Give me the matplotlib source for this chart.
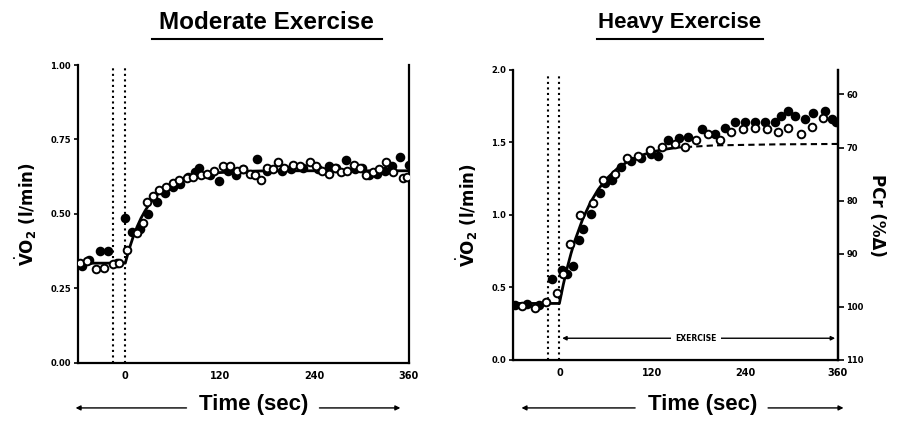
import numpy as np
import matplotlib
matplotlib.use('Agg')
from matplotlib import pyplot as plt
from matplotlib import font_manager

##### data #####
# Moderate exercise, VO2 (l/min)
mod_open_t = [-58, -48, -37, -27, -16, -8, 2, 15, 22, 28, 35, 43, 52, 60, 68, 78, 86, 96, 104, 113,
              124, 133, 142, 150, 158, 165, 172, 180, 188, 194, 202, 213, 222, 234, 242, 250,
              258, 266, 274, 282, 290, 298, 306, 314, 322, 331, 340, 352, 358]
mod_open_v = [0.337, 0.343, 0.314, 0.320, 0.332, 0.337, 0.38, 0.435, 0.47, 0.54, 0.56, 0.58, 0.59,
              0.605, 0.615, 0.62, 0.625, 0.63, 0.635, 0.645, 0.66, 0.66, 0.645, 0.65, 0.635,
              0.63, 0.614, 0.655, 0.65, 0.675, 0.655, 0.665, 0.66, 0.675, 0.66, 0.645, 0.635,
              0.655, 0.64, 0.645, 0.665, 0.655, 0.63, 0.64, 0.65, 0.675, 0.64, 0.62, 0.625]
mod_fill_t = [-55, -46, -32, -22, -10, 0, 9, 19, 29, 40, 50, 60, 69, 80, 88, 93, 108, 119, 130,
              140, 150, 167, 180, 199, 210, 225, 245, 258, 268, 280, 292, 300, 309, 320, 330,
              339, 349, 360]
mod_fill_v = [0.325, 0.345, 0.375, 0.375, 0.335, 0.485, 0.44, 0.45, 0.50, 0.54, 0.57, 0.59, 0.60,
              0.625, 0.64, 0.655, 0.63, 0.61, 0.645, 0.63, 0.65, 0.685, 0.645, 0.645, 0.65,
              0.655, 0.65, 0.66, 0.655, 0.68, 0.65, 0.655, 0.63, 0.635, 0.645, 0.66, 0.69, 0.665]
mod_fit_t = [-60, 0, 5, 10, 15, 20, 25, 30, 40, 50, 60, 75, 90, 105, 120, 150, 180, 240, 300, 360]
mod_fit_v = [0.335, 0.335, 0.383, 0.423, 0.457, 0.486, 0.510, 0.531, 0.563, 0.586, 0.603, 0.620,
             0.630, 0.636, 0.639, 0.643, 0.645, 0.645, 0.645, 0.645]

# Heavy exercise, VO2 (l/min)
hvy_open_t = [-48, -32, -17, -3, 5, 14, 27, 43, 57, 72, 87, 102, 117, 132, 149, 162, 177, 192,
              207, 222, 237, 253, 268, 282, 296, 312, 326, 341]
hvy_open_v = [0.37, 0.356, 0.40, 0.46, 0.59, 0.80, 1.00, 1.08, 1.24, 1.28, 1.39, 1.41, 1.45, 1.47,
              1.49, 1.47, 1.52, 1.56, 1.52, 1.57, 1.59, 1.60, 1.59, 1.57, 1.60, 1.56, 1.61, 1.67]
hvy_fill_t = [-58, -42, -26, -9, 3, 10, 17, 25, 31, 41, 53, 59, 68, 80, 93, 106, 118, 128, 141,
              154, 166, 184, 201, 214, 227, 240, 253, 266, 279, 287, 296, 305, 317, 328, 343, 352,
              357]
hvy_fill_v = [0.38, 0.385, 0.38, 0.56, 0.62, 0.59, 0.65, 0.83, 0.90, 1.01, 1.15, 1.22, 1.24, 1.33,
              1.37, 1.39, 1.42, 1.41, 1.52, 1.53, 1.54, 1.59, 1.56, 1.60, 1.64, 1.64, 1.64, 1.64,
              1.64, 1.68, 1.72, 1.68, 1.66, 1.70, 1.72, 1.66, 1.64]
hvy_fit_t = [-60, 0, 5, 10, 15, 20, 30, 40, 50, 60, 75, 90, 105, 120, 135, 150]
hvy_fit_v = [0.39, 0.39, 0.519, 0.633, 0.734, 0.823, 0.970, 1.085, 1.175, 1.245, 1.321, 1.374,
             1.410, 1.435, 1.452, 1.464]
hvy_tail_t = [150, 200, 280, 360]
hvy_tail_v = [1.464, 1.48, 1.487, 1.49]

x_ticks = [0, 120, 240, 360]
mod_y_ticks = [0.0, 0.25, 0.5, 0.75, 1.0]
hvy_y_ticks = [0.0, 0.5, 1.0, 1.5, 2.0]
pcr_ticks = [60, 70, 80, 90, 100, 110]
######################################

names = {f.name for f in font_manager.fontManager.ttflist}
head = 'Liberation Sans Narrow' if 'Liberation Sans Narrow' in names else 'Liberation Sans'

fig = plt.figure(figsize=(9.1, 4.41), dpi=100)
ax1 = fig.add_axes([0.0857, 0.1769, 0.3637, 0.6757])
ax2 = fig.add_axes([0.5637, 0.1837, 0.3571, 0.6576])

vo2_label = r'$\dot{\mathbf{V}}\mathbf{O}_{\mathbf{2}}$ (l/min)'


def base_axes(ax, yticks, ylim, yfmt):
    ax.set_xlim(-60, 360)
    ax.set_ylim(*ylim)
    ax.spines['top'].set_visible(False)
    for s in ['left', 'bottom', 'right']:
        ax.spines[s].set_linewidth(1.6)
    ax.set_xticks(x_ticks)
    ax.set_xticklabels([str(t) for t in x_ticks], fontsize=7, fontweight='bold')
    ax.set_yticks(yticks)
    ax.set_yticklabels([yfmt % v for v in yticks], fontsize=6, fontweight='bold')
    ax.tick_params(axis='x', length=0, pad=6)
    ax.tick_params(axis='y', length=3, width=1.2, pad=2)
    ax.axvline(-15, ymax=0.99, color='k', ls=':', lw=1.5)
    ax.axvline(0, ymax=0.99, color='k', ls=':', lw=1.5)
    ax.set_ylabel(vo2_label, fontsize=12, fontweight='bold', labelpad=8)


mk = dict(ls='none', marker='o', markersize=5.5, markeredgewidth=1.4, markeredgecolor='k')

# moderate
base_axes(ax1, mod_y_ticks, (0, 1.0), '%.2f')
ax1.plot(mod_fit_t, mod_fit_v, color='k', lw=2.0, zorder=3)
ax1.plot(mod_fill_t, mod_fill_v, color='k', markerfacecolor='k', zorder=4, **mk)
ax1.plot(mod_open_t, mod_open_v, color='k', markerfacecolor='white', zorder=5, **mk)

# heavy
base_axes(ax2, hvy_y_ticks, (0, 2.0), '%.1f')
ax2.plot(hvy_fit_t, hvy_fit_v, color='k', lw=2.0, zorder=3)
ax2.plot(hvy_tail_t, hvy_tail_v, color='k', lw=1.5, ls=(0, (3, 2)), zorder=3)
ax2.plot(hvy_fill_t, hvy_fill_v, color='k', markerfacecolor='k', zorder=4, **mk)
ax2.plot(hvy_open_t, hvy_open_v, color='k', markerfacecolor='white', zorder=5, **mk)
ax2.annotate('', xy=(0, 0.15), xytext=(360, 0.15),
             arrowprops=dict(arrowstyle='<|-|>', color='k', lw=1.0, mutation_scale=6))
ax2.text(177, 0.15, 'EXERCISE', fontsize=5.5, fontweight='bold', ha='center', va='center',
         bbox=dict(facecolor='white', edgecolor='none', pad=3))

pcr = ax2.twinx()
pcr.set_ylim(110, 55.4)
pcr.set_yticks(pcr_ticks)
pcr.set_yticklabels([str(v) for v in pcr_ticks], fontsize=6, fontweight='bold')
pcr.tick_params(axis='y', length=4, width=1.2, pad=2)
pcr.spines['top'].set_visible(False)
pcr.spines['right'].set_linewidth(1.6)
pcr.set_ylabel('PCr (%Δ)', fontsize=12, fontweight='bold', rotation=-90, labelpad=16)

# titles
fig.text(0.293, 0.950, 'Moderate Exercise', fontsize=17.5, fontweight='bold', family=head,
         ha='center', va='center')
fig.text(0.747, 0.950, 'Heavy Exercise', fontsize=16, fontweight='bold', family=head,
         ha='center', va='center')
fig.add_artist(plt.Line2D([0.167, 0.420], [0.912, 0.912], color='k', lw=1.5))
fig.add_artist(plt.Line2D([0.656, 0.838], [0.912, 0.912], color='k', lw=1.5))

# time captions with arrows
for cx, x0, x1 in [(0.279, 0.080, 0.443), (0.772, 0.570, 0.930)]:
    fig.text(cx, 0.082, 'Time (sec)', fontsize=16, fontweight='bold', family=head,
             ha='center', va='center')
    fig.add_artist(matplotlib.patches.FancyArrowPatch(
        (cx - 0.071, 0.075), (x0, 0.075), transform=fig.transFigure,
        arrowstyle='-|>', mutation_scale=7, color='k', lw=1.0))
    fig.add_artist(matplotlib.patches.FancyArrowPatch(
        (cx + 0.069, 0.075), (x1, 0.075), transform=fig.transFigure,
        arrowstyle='-|>', mutation_scale=7, color='k', lw=1.0))

fig.savefig('out.png', dpi=100)
